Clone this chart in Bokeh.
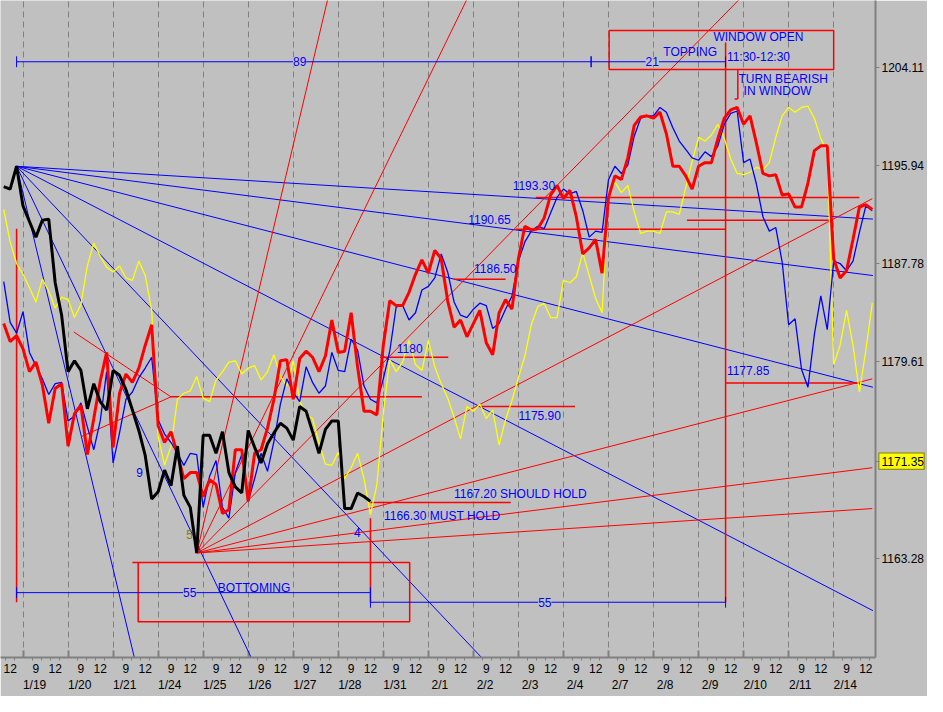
from bokeh.plotting import figure
from bokeh.models import Range1d, LinearAxis, FixedTicker, Label, Grid, PrintfTickFormatter
from bokeh.embed import file_html
from bokeh.resources import INLINE

# ---------------- data ----------------
DATES = ["1/19", "1/20", "1/21", "1/24", "1/25", "1/26", "1/27", "1/28", "1/31", "2/1",
         "2/2", "2/3", "2/4", "2/7", "2/8", "2/9", "2/10", "2/11", "2/14"]
BARS_PER_DAY = 7
FIRST_BAR = -3
HOUR_LABELS = [("9", 2), ("12", 5)]
DATE_OFFSET = 1.8
PRICE_TICKS = [1204.11, 1195.94, 1187.78, 1179.61, 1171.35, 1163.28]
LAST_PRICE = 1171.35

RED = [1182.8, 1181.3, 1181.8, 1180.7, 1178.8, 1179.6, 1177.7, 1174.5, 1177.4, 1177.8,
       1172.6, 1175.3, 1176.0, 1171.9, 1174.9, 1178.0, 1180.4, 1172.5, 1177.0, 1178.6,
       1177.9, 1179.1, 1181.0, 1182.7, 1174.3, 1172.9, 1173.8, 1171.9, 1169.9, 1170.4,
       1170.4, 1168.4, 1169.8, 1169.4, 1167.0, 1167.3, 1172.3, 1172.3, 1168.0, 1172.0,
       1172.3, 1174.1, 1176.5, 1179.7, 1179.8, 1176.5, 1179.9, 1180.5, 1180.0, 1178.8,
       1180.1, 1183.1, 1180.4, 1180.5, 1183.7, 1179.2, 1175.5, 1175.5, 1175.2, 1181.0,
       1184.7, 1184.3, 1184.3, 1185.4, 1186.9, 1188.1, 1187.0, 1188.9, 1188.2, 1184.7,
       1182.5, 1183.1, 1181.7, 1182.8, 1183.9, 1181.2, 1180.2, 1183.7, 1184.8, 1184.0,
       1188.2, 1190.9, 1190.6, 1190.7, 1191.6, 1193.5, 1194.3, 1193.2, 1193.9, 1191.7,
       1188.6, 1189.1, 1189.8, 1187.0, 1193.3, 1195.1, 1194.8, 1196.6, 1199.3, 1200.0,
       1200.1, 1199.9, 1200.4, 1198.6, 1195.9, 1195.9, 1195.1, 1194.0, 1195.9, 1196.2,
       1196.2, 1198.2, 1199.9, 1200.6, 1200.8, 1199.4, 1200.1, 1197.8, 1195.3, 1195.1,
       1195.2, 1193.5, 1193.6, 1192.5, 1192.5, 1194.5, 1197.2, 1197.6, 1197.6, 1188.2,
       1186.6, 1187.2, 1189.8, 1192.5, 1192.7, 1192.3]

BLUE = [1186.3, 1182.9, 1182.0, 1183.8, 1180.4, 1179.3, 1178.2, 1176.9, 1177.8, 1177.9,
        1174.7, 1175.1, 1176.2, 1174.2, 1172.3, 1174.7, 1178.8, 1171.2, 1173.7, 1176.5,
        1177.1, 1178.3, 1179.1, 1180.0, 1174.8, 1173.6, 1172.9, 1172.0, 1171.0, 1172.0,
        1171.9, 1167.5, 1170.1, 1171.4, 1167.5, 1166.6, 1170.4, 1171.9, 1168.0, 1169.9,
        1172.0, 1170.5, 1173.0, 1176.1, 1178.2, 1177.1, 1176.3, 1179.2, 1177.9, 1177.0,
        1177.6, 1180.4, 1178.9, 1178.8, 1181.5, 1180.6, 1177.6, 1176.5, 1176.2, 1178.2,
        1180.5, 1184.2, 1184.3, 1183.1, 1183.7, 1185.6, 1185.9, 1186.6, 1188.6, 1187.1,
        1184.6, 1183.5, 1183.3, 1184.0, 1184.5, 1184.3, 1182.4, 1182.8, 1184.0, 1185.1,
        1188.0, 1189.6, 1190.5, 1190.9, 1190.7, 1192.0, 1193.3, 1194.0, 1193.6, 1193.8,
        1192.2, 1190.0, 1190.5, 1190.4, 1194.8, 1195.9, 1195.3, 1196.0, 1198.4, 1199.9,
        1200.1, 1200.1, 1200.8, 1200.4, 1199.1, 1198.0, 1197.3, 1196.6, 1196.4, 1197.1,
        1196.7, 1197.6, 1199.4, 1200.3, 1200.5, 1196.2, 1196.5, 1194.4, 1191.7, 1190.5,
        1190.8, 1187.9, 1182.7, 1183.2, 1179.0, 1177.5, 1181.9, 1185.1, 1182.3, 1188.0,
        1187.8, 1187.2, 1188.0, 1190.4, 1192.6, 1192.2]

YELLOW = [1192.3, 1189.6, 1187.8, 1186.9, 1185.8, 1184.6, 1186.5, 1185.5, 1184.1, 1185.0,
          1184.8, 1183.3, 1184.4, 1187.6, 1189.5, 1188.4, 1187.5, 1187.1, 1187.6, 1186.6,
          1186.4, 1188.0, 1186.8, 1183.9, 1173.4, 1171.0, 1172.6, 1176.5, 1177.0, 1177.2,
          1178.4, 1176.6, 1176.3, 1178.1, 1178.8, 1179.6, 1179.7, 1178.6, 1179.1, 1179.3,
          1178.1, 1178.8, 1180.2, 1178.4, 1177.6, 1179.7, 1176.4, 1175.2, 1174.9, 1172.9,
          1171.1, 1171.0, 1172.1, 1169.9, 1170.8, 1172.0, 1169.9, 1166.9, 1169.4, 1175.3,
          1179.8, 1178.8, 1179.6, 1181.4, 1179.4, 1178.9, 1181.4, 1179.2, 1177.8, 1176.6,
          1175.0, 1173.2, 1175.9, 1175.5, 1176.1, 1174.9, 1175.6, 1172.7, 1174.8, 1176.4,
          1178.3, 1180.1, 1182.7, 1184.2, 1184.5, 1183.3, 1183.3, 1186.4, 1186.2, 1186.7,
          1188.7, 1186.8, 1184.9, 1183.7, 1193.7, 1194.6, 1193.7, 1194.3, 1192.1, 1190.3,
          1190.5, 1190.5, 1190.3, 1192.1, 1192.1, 1191.9, 1194.1, 1196.3, 1198.3, 1198.0,
          1198.5, 1199.4, 1198.2, 1196.5, 1195.3, 1195.2, 1195.4, 1195.8, 1195.6, 1196.2,
          1198.3, 1200.1, 1200.8, 1200.4, 1200.8, 1200.9, 1199.9, 1198.2, 1197.2, 1179.4,
          1181.0, 1183.9, 1181.0, 1177.1, 1180.6, 1184.5]

BLACK = [1194.2, 1194.0, 1195.9, 1192.6, 1191.3, 1190.0, 1191.4, 1191.5, 1186.2, 1183.5,
         1178.8, 1179.7, 1178.9, 1175.7, 1177.8, 1176.3, 1175.6, 1178.9, 1178.5, 1177.3,
         1175.6, 1173.9, 1171.8, 1168.2, 1168.8, 1170.6, 1169.3, 1172.6, 1168.5, 1167.5,
         1163.7, 1173.5, 1173.5, 1172.0, 1173.8, 1170.4, 1169.2, 1168.7, 1173.9, 1172.5,
         1171.2, 1172.8, 1173.7, 1174.5, 1174.1, 1173.1, 1175.9, 1175.5, 1173.8, 1172.0,
         1174.0, 1174.7, 1174.7, 1167.4, 1167.4, 1168.7, 1168.4, 1168.0]

# Gann fan pivots (bar, price) and fan end points
TOP_PIVOT = (-1, 1195.9)
BOTTOM_PIVOT = (27, 1163.7)
BLUE_FAN_X = [132.1, 132.1, 132.1, 132.1, 90.0, 45.0, 22.0]
BLUE_FAN_Y = [1191.5, 1186.8, 1177.5, 1158.9, 1144.4, 1144.3, 1144.5]
RED_FAN_X = [50.0, 72.0, 115.0, 132.0, 132.0, 132.0, 132.0]
RED_FAN_Y = [1215.8, 1213.1, 1211.8, 1193.2, 1178.2, 1170.8, 1167.4]

# red horizontal levels: price, from bar, to bar
HL_PRICE = [1180.0, 1186.5, 1190.65, 1193.3, 1191.4, 1175.9, 1177.85, 1176.7, 1167.9, 1201.5, 1162.9]
HL_X0 = [55.5, 67.0, 76.6, 79.7, 103.2, 70.9, 109.2, 23.0, 54.0, 110.6, 17.0]
HL_X1 = [66.1, 75.0, 109.2, 130.0, 125.9, 85.8, 130.0, 62.0, 75.8, 111.1, 17.9]

# red vertical lines: bar, price from, price to
VL_X = [-1.0, 54.0, 109.2, 111.1]
VL_Y0 = [1190.7, 1166.6, 1206.2, 1203.95]
VL_Y1 = [1159.6, 1159.6, 1159.6, 1201.5]

# red converging lines (bar0, price0, bar1, price1)
TRI_X0 = [7.9, 9.1]
TRI_Y0 = [1182.1, 1173.4]
TRI_X1 = [23.0, 23.0]
TRI_Y1 = [1176.7, 1176.7]

# red boxes: left, right, bottom, top
BOX_L = [17.9, 91.1]
BOX_R = [60.1, 126.0]
BOX_B = [1157.97, 1203.95]
BOX_T = [1162.9, 1207.2]

# blue count bars: label, from bar, to bar, price, label bar
MEASURES = [("89", -1.0, 88.3, 1204.6, 43.0),
            ("21", 88.3, 109.2, 1204.6, 97.8),
            ("55", -1.0, 54.0, 1160.4, 25.9),
            ("55", 54.0, 109.2, 1159.6, 81.1)]

# text notes: text, bar, price, align, colour
NOTES = [("WINDOW OPEN", 114.3, 1206.64, "center", "#0000ff"),
         ("TOPPING", 103.7, 1205.42, "center", "#0000ff"),
         ("11:30-12:30", 109.4, 1205.01, "left", "#0000ff"),
         ("TURN BEARISH", 111.2, 1203.13, "left", "#0000ff"),
         ("IN WINDOW", 112.0, 1202.15, "left", "#0000ff"),
         ("1193.30", 76.1, 1194.3, "left", "#0000ff"),
         ("1190.65", 69.2, 1191.5, "left", "#0000ff"),
         ("1186.50", 70.1, 1187.4, "left", "#0000ff"),
         ("1180", 58.1, 1180.7, "left", "#0000ff"),
         ("1175.90", 77.0, 1175.15, "left", "#0000ff"),
         ("1177.85", 109.4, 1178.9, "left", "#0000ff"),
         ("1167.20 SHOULD HOLD", 67.0, 1168.65, "left", "#0000ff"),
         ("1166.30 MUST HOLD", 56.1, 1166.8, "left", "#0000ff"),
         ("BOTTOMING", 35.9, 1160.75, "center", "#0000ff"),
         ("9", 18.1, 1170.4, "center", "#0000ff"),
         ("4", 51.95, 1165.4, "center", "#0000ff"),
         ("5", 25.9, 1165.25, "center", "#808000")]

X_START, X_END = -3.5, 132.5
Y_START, Y_END = 1155.0, 1209.7

# ---------------- style ----------------
BG = "#c0c0c0"
FONT = "Liberation Sans"
FS = "12px"
AXIS_GRAY = "#808080"

p = figure(width=927, height=696,
           x_range=Range1d(X_START, X_END), y_range=Range1d(Y_START, Y_END),
           output_backend="svg", toolbar_location=None,
           x_axis_location=None, y_axis_location=None,
           background_fill_color=BG, border_fill_color=BG,
           min_border_left=0, min_border_top=0, min_border_right=52, min_border_bottom=10)
p.outline_line_color = None
p.center = []

day_ticks = [i * BARS_PER_DAY for i in range(len(DATES))]
# dashed day separators
p.add_layout(Grid(dimension=0, ticker=FixedTicker(ticks=day_ticks),
                  grid_line_color=AXIS_GRAY, grid_line_dash="6 4", grid_line_width=1))
# short solid day ticks rising from the time axis
p.add_layout(Grid(dimension=0, ticker=FixedTicker(ticks=day_ticks),
                  grid_line_color=AXIS_GRAY, grid_line_dash="7 3000", grid_line_width=2))

# ---------- annotations (drawn beneath the price lines) ----------
n = len(BLUE_FAN_X)
p.segment(x0=[TOP_PIVOT[0]] * n, y0=[TOP_PIVOT[1]] * n, x1=BLUE_FAN_X, y1=BLUE_FAN_Y,
          line_color="#0000ff", line_width=1)
n = len(RED_FAN_X)
p.segment(x0=[BOTTOM_PIVOT[0]] * n, y0=[BOTTOM_PIVOT[1]] * n, x1=RED_FAN_X, y1=RED_FAN_Y,
          line_color="#ff0000", line_width=1)
p.segment(x0=TRI_X0, y0=TRI_Y0, x1=TRI_X1, y1=TRI_Y1, line_color="#ff0000", line_width=1)
p.segment(x0=HL_X0, y0=HL_PRICE, x1=HL_X1, y1=HL_PRICE, line_color="#ff0000", line_width=1.5)
p.segment(x0=VL_X, y0=VL_Y0, x1=VL_X, y1=VL_Y1, line_color="#ff0000", line_width=1.5)
p.quad(left=BOX_L, right=BOX_R, bottom=BOX_B, top=BOX_T, fill_color=None,
       line_color="#ff0000", line_width=1.5)

mx0 = [m[1] for m in MEASURES]
mx1 = [m[2] for m in MEASURES]
my = [m[3] for m in MEASURES]
p.segment(x0=mx0, y0=my, x1=mx1, y1=my, line_color="#0000ff", line_width=1)
cap = 0.45
p.segment(x0=mx1, y0=[v - cap for v in my], x1=mx1, y1=[v + cap for v in my],
          line_color="#0000ff", line_width=1)
p.segment(x0=mx0, y0=[v - cap for v in my], x1=mx0, y1=[v + cap for v in my],
          line_color="#0000ff", line_width=1)

# ---------- price lines ----------
def bars(series):
    return [FIRST_BAR + i for i in range(len(series))]

p.line(bars(YELLOW), YELLOW, line_color="#ffff00", line_width=1.3)
p.line(bars(BLUE), BLUE, line_color="#0000ff", line_width=1.3)
p.line(bars(RED), RED, line_color="#ff0000", line_width=3)
p.line(bars(BLACK), BLACK, line_color="#000000", line_width=3)

# ---------- texts ----------
for txt, bx, py, align, col in NOTES:
    p.add_layout(Label(x=bx, y=py, text=txt, text_align=align, text_baseline="middle",
                       text_color=col, text_font=FONT, text_font_size=FS))
for txt, x0, x1, py, bx in MEASURES:
    p.add_layout(Label(x=bx, y=py, text=txt, text_align="center", text_baseline="middle",
                       text_color="#0000ff", text_font=FONT, text_font_size=FS,
                       background_fill_color=BG))

# ---------- axes ----------
minor = []
for d in range(-BARS_PER_DAY, day_ticks[-1] + BARS_PER_DAY, BARS_PER_DAY):
    for j in range(1, 5):
        t = d + j * BARS_PER_DAY / 5
        if X_START <= t <= X_END:
            minor.append(t)

hour_ticks, hour_over = [], {}
for i in range(-1, len(DATES)):
    for lab, off in HOUR_LABELS:
        t = i * BARS_PER_DAY + off
        if X_START <= t <= X_END:
            hour_ticks.append(t)
            hour_over[t] = lab

axH = LinearAxis(ticker=FixedTicker(ticks=hour_ticks, minor_ticks=minor),
                 major_label_overrides=hour_over)
axH.axis_line_color = AXIS_GRAY
axH.axis_line_width = 2
axH.major_tick_line_color = None
axH.major_tick_in = 0
axH.major_tick_out = 0
axH.minor_tick_line_color = AXIS_GRAY
axH.minor_tick_in = 0
axH.minor_tick_out = 3
axH.major_label_standoff = 3
axH.major_label_text_font = FONT
axH.major_label_text_font_size = FS
axH.major_label_text_color = "#000000"
p.add_layout(axH, "below")

date_ticks = [d + DATE_OFFSET for d in day_ticks]
date_over = {t: lab for t, lab in zip(date_ticks, DATES)}
axD = LinearAxis(ticker=FixedTicker(ticks=date_ticks, minor_ticks=[]),
                 major_label_overrides=date_over)
axD.axis_line_color = None
axD.major_tick_line_color = None
axD.minor_tick_line_color = None
axD.major_tick_in = 0
axD.major_tick_out = 0
axD.major_label_standoff = 2
axD.major_label_text_font = FONT
axD.major_label_text_font_size = FS
axD.major_label_text_color = "#000000"
p.add_layout(axD, "below")

axY = LinearAxis(ticker=FixedTicker(ticks=PRICE_TICKS, minor_ticks=[]),
                 formatter=PrintfTickFormatter(format="%.2f"))
axY.axis_line_color = AXIS_GRAY
axY.axis_line_width = 2
axY.major_tick_line_color = AXIS_GRAY
axY.major_tick_in = 0
axY.major_tick_out = 4
axY.major_label_standoff = 2
axY.major_label_text_font = FONT
axY.major_label_text_font_size = FS
axY.major_label_text_color = "#000000"
p.add_layout(axY, "right")

# yellow last-price marker behind the 1171.35 axis label: a near-zero-height blank label
# whose thick border forms the box; it sits in a side panel so it is not clipped to the frame
for col, bw in (("#808000", 16), ("#ffff00", 14)):
    p.add_layout(Label(x=X_END, y=LAST_PRICE, x_offset=26, text=" ",
                       text_align="center", text_baseline="middle",
                       text_font=FONT, text_font_size="1px", level="guide",
                       padding=dict(left=15, right=15, top=0, bottom=0),
                       background_fill_color="#ffff00",
                       border_line_color=col, border_line_width=bw,
                       border_line_join="miter"), "below")

open("out.html", "w").write(file_html(p, INLINE))
